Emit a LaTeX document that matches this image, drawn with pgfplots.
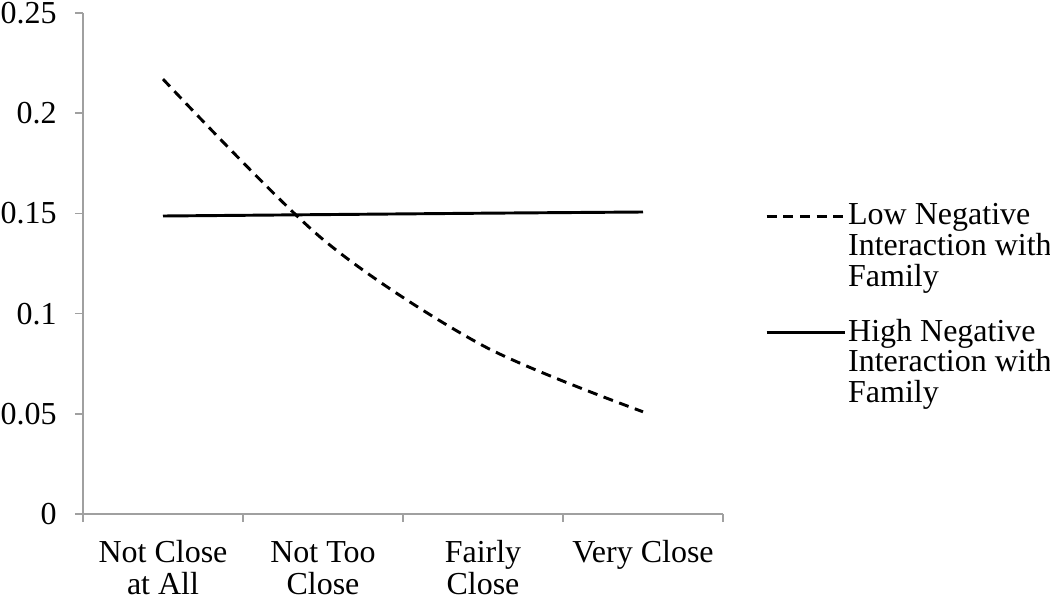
\documentclass[border=0pt]{standalone}
\usepackage{fontspec}
\setmainfont{Liberation Serif}
\usepackage{pgfplots}
\pgfplotsset{compat=1.18}
\definecolor{axgray}{RGB}{160,160,160}

\begin{document}
\fontsize{24}{24}\selectfont
\begin{tikzpicture}
\begin{axis}[
  at={(0,0)}, anchor=south west,
  scale only axis, width=480pt, height=375.75pt,
  xmin=-0.5, xmax=3.5, ymin=0, ymax=0.25,
  axis lines*=left,
  axis line style={axgray, line width=1.1pt},
  tick style={axgray, line width=1.1pt},
  tick align=outside, major tick length=6pt,
  xtick={-0.5,0.5,1.5,2.5,3.5},
  x tick label as interval,
  xticklabels={\strut Not Close\\at All, \strut Not Too\\Close, \strut Fairly\\Close, \strut Very Close},
  xticklabel style={align=center, font=\fontsize{24}{24}\selectfont, text=black,
    yshift=-5pt},
  ytick={0,0.05,0.1,0.15,0.2,0.25},
  yticklabels={0,0.05,0.1,0.15,0.2,0.25},
  yticklabel style={font=\fontsize{24}{24}\selectfont, text=black, xshift=-5.5pt},
  legend style={draw=none, fill=none, at={(1.0656,0.416)}, anchor=west,
    inner sep=0pt, row sep=18pt,
    nodes={inner sep=1.5pt, align=left},
    font=\fontsize{24}{23}\selectfont},
  legend cell align=left,
  legend image code/.code={\draw[#1] (0pt,23pt) -- (58.5pt,23pt);},
]
\addplot[black, line width=2.2pt, dash pattern=on 7.5pt off 5pt, smooth] coordinates {
  (0,0.217) (1,0.137) (2,0.084) (3,0.051)
};
\addlegendentry{Low Negative\\Interaction with\\Family}
\addplot[black, line width=2.2pt] coordinates {
  (0,0.1487) (1,0.1494) (2,0.1501) (3,0.1507)
};
\addlegendentry{High Negative\\Interaction with\\Family}
\end{axis}
\pgfresetboundingbox
\path[use as bounding box] (-62.25pt,-64.5pt) rectangle (725.25pt,385.5pt);
\end{tikzpicture}
\end{document}
